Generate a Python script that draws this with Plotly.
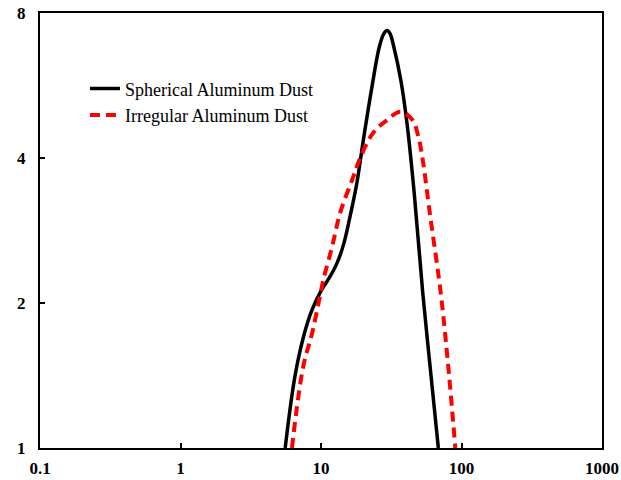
import plotly.graph_objects as go

sph_x = [5.56, 6.5, 7.5, 8.6, 10.0, 11.5, 13.0, 14.5, 16.0, 18.0, 20.0, 23.0, 26.0, 28.0, 29.5, 31.0, 33.0, 37.0, 41.0, 46.0, 53.0, 60.0, 68.4]
sph_y = [1.0, 1.4, 1.7, 1.93, 2.12, 2.26, 2.42, 2.65, 3.0, 3.55, 4.35, 5.6, 6.8, 7.25, 7.36, 7.25, 6.8, 5.8, 4.7, 3.4, 2.1, 1.46, 1.0]

irr_x = [6.21, 7.47, 8.66, 9.71, 10.4, 12.0, 13.7, 16.7, 19.0, 23.5, 29.6, 36.7, 44.7, 49.3, 52.6, 60.0, 70.7, 79.3, 90.4]
irr_y = [1.0, 1.475, 1.735, 2.03, 2.236, 2.618, 3.08, 3.61, 4.0, 4.51, 4.8, 4.99, 4.8, 4.43, 4.02, 3.02, 2.13, 1.547, 1.0]

x_ticks = [0.1, 1, 10, 100, 1000]
x_tick_text = ["0.1", "1", "10", "100", "1000"]
y_ticks = [1, 2, 4, 8]
y_tick_text = ["1", "2", "4", "8"]

fig = go.Figure()
fig.add_trace(go.Scatter(x=sph_x, y=sph_y, mode="lines", name="Spherical Aluminum Dust",
                         line=dict(color="black", width=3.5, shape="spline", smoothing=1.0)))
fig.add_trace(go.Scatter(x=irr_x, y=irr_y, mode="lines", name="Irregular Aluminum Dust",
                         line=dict(color="#ff0000", width=4, dash="10px,6px", shape="spline", smoothing=1.0)))

fig.update_layout(
    width=621, height=480,
    margin=dict(l=40, r=19, t=13, b=32, autoexpand=False),
    paper_bgcolor="white", plot_bgcolor="white",
    font=dict(family="Liberation Serif", color="black"),
    showlegend=True,
    legend=dict(x=0.08, y=0.868, xanchor="left", yanchor="top",
                bgcolor="rgba(0,0,0,0)", font=dict(size=18, family="Liberation Serif"),
                tracegroupgap=0, itemwidth=30),
)
axis_common = dict(type="log", showgrid=False, zeroline=False, showline=True, linecolor="black",
                   linewidth=2, mirror=True, ticks="inside", ticklen=5, tickwidth=2, tickcolor="black",
                   automargin=False,
                   tickfont=dict(size=17, family="Liberation Serif", weight="bold"))
fig.update_xaxes(range=[-1, 3], tickvals=x_ticks, ticktext=x_tick_text, ticklabelstandoff=4, **axis_common)
fig.update_yaxes(range=[0, 0.90309], tickvals=y_ticks, ticktext=y_tick_text, ticklabelstandoff=9, **axis_common)

fig.write_html("out.html")
